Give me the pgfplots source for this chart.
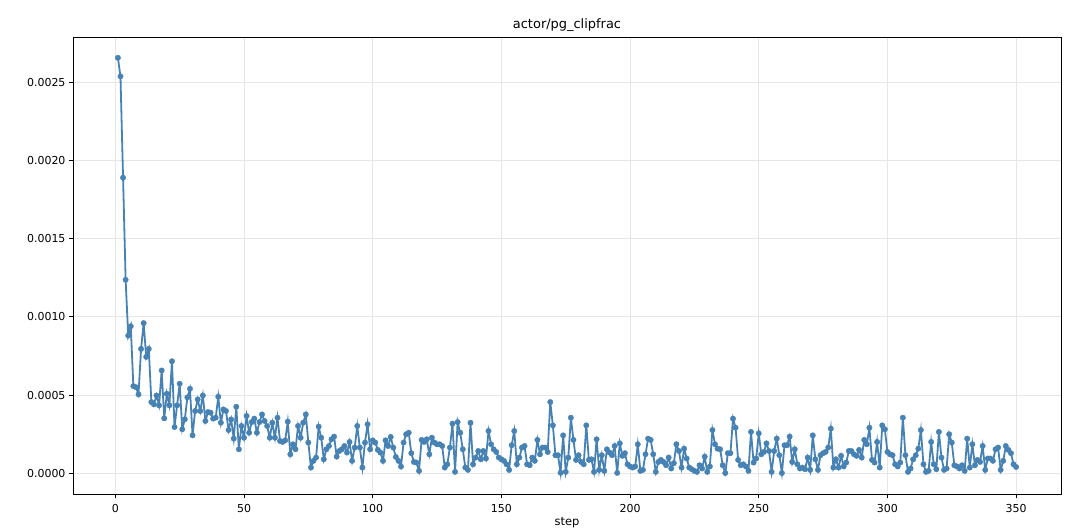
\documentclass[border=0pt]{standalone}
\usepackage{pgfplots}
\pgfplotsset{compat=1.18}
\usepackage{pgfplotstable}
\usepackage{fontspec}
\setmainfont{DejaVu Sans}
\definecolor{sblue}{HTML}{4682B4}
\definecolor{gridc}{HTML}{E6E6E6}
\pgfplotstableread{
x y
1 0.002657
2 0.002538
3 0.00189
4 0.001237
5 0.00088
6 0.00094
7 0.000557
8 0.00055
9 0.000504
10 0.000795
11 0.00096
12 0.000744
13 0.000795
14 0.000455
15 0.00044
16 0.000497
17 0.000434
18 0.000657
19 0.000351
20 0.000508
21 0.000434
22 0.000716
23 0.000295
24 0.000434
25 0.000572
26 0.000281
27 0.000345
28 0.000485
29 0.000540
30 0.000242
31 0.000398
32 0.000472
33 0.000398
34 0.000497
35 0.000334
36 0.000391
37 0.000387
38 0.000349
39 0.000355
40 0.000489
41 0.000323
42 0.000408
43 0.000398
44 0.000276
45 0.000344
46 0.000221
47 0.000425
48 0.000153
49 0.000302
50 0.000227
51 0.000366
52 0.000259
53 0.000327
54 0.000349
55 0.000259
56 0.000327
57 0.000376
58 0.000334
59 0.000302
60 0.000227
61 0.000323
62 0.000227
63 0.000355
64 0.000206
65 0.000200
66 0.000210
67 0.000330
68 0.000121
69 0.000185
70 0.000153
71 0.000302
72 0.000227
73 0.000323
74 0.000376
75 0.000196
76 0.000036
77 0.000079
78 0.000100
79 0.000298
80 0.000227
81 0.000089
82 0.000153
83 0.000174
84 0.000217
85 0.000234
86 0.000106
87 0.000142
88 0.000153
89 0.000174
90 0.000132
91 0.000200
92 0.000079
93 0.000164
94 0.000302
95 0.000164
96 0.000036
97 0.000196
98 0.000313
99 0.000153
100 0.000210
101 0.000196
102 0.000149
103 0.000132
104 0.000079
105 0.000210
106 0.000174
107 0.000232
108 0.000164
109 0.000104
110 0.000079
111 0.0000425
112 0.000196
113 0.000249
114 0.000259
115 0.000128
116 0.000072
117 0.000068
118 0.000015
119 0.000213
120 0.000200
121 0.000217
122 0.000121
123 0.000227
124 0.000196
125 0.000185
126 0.000185
127 0.000174
128 0.000036
129 0.000057
130 0.000164
131 0.000317
132 0.0000085
133 0.000327
134 0.000259
135 0.000153
136 0.000036
137 0.000021
138 0.000323
139 0.000057
140 0.000100
141 0.000142
142 0.000089
143 0.000142
144 0.000094
145 0.000270
146 0.000185
147 0.000153
148 0.000136
149 0.000100
150 0.000089
151 0.000079
152 0.000057
153 0.000021
154 0.000179
155 0.000270
156 0.000057
157 0.000100
158 0.000164
159 0.000174
160 0.000057
161 0.000051
162 0.000100
163 0.000079
164 0.000213
165 0.000121
166 0.000164
167 0.000164
168 0.000136
169 0.000455
170 0.000306
171 0.000115
172 0.000115
173 0.000003
174 0.000242
175 0.0000085
176 0.000100
177 0.000355
178 0.000213
179 0.000085
180 0.000115
181 0.000072
182 0.000057
183 0.000306
184 0.000085
185 0.000089
186 0.0000085
187 0.000217
188 0.000021
189 0.000115
190 0.000015
191 0.000153
192 0.000132
193 0.000115
194 0.000174
195 0.000002
196 0.000191
197 0.000111
198 0.000128
199 0.000057
200 0.000043
201 0.000036
202 0.000043
203 0.000185
204 0.000015
205 0.000021
206 0.000121
207 0.000221
208 0.000213
209 0.000121
210 0.0000085
211 0.000072
212 0.000085
213 0.000072
214 0.000051
215 0.000100
216 0.000030
217 0.000064
218 0.000185
219 0.000142
220 0.000036
221 0.000157
222 0.000094
223 0.000036
224 0.0000255
225 0.000015
226 0.0000085
227 0.000051
228 0.000030
229 0.000106
230 0.0000085
231 0.000043
232 0.000276
233 0.000185
234 0.000157
235 0.000153
236 0.000051
237 0.000001
238 0.000128
239 0.000128
240 0.000349
241 0.000291
242 0.000085
243 0.000051
244 0.000057
245 0.000043
246 0.000015
247 0.000264
248 0.000068
249 0.000094
250 0.000255
251 0.000121
252 0.000136
253 0.000191
254 0.000142
255 0.0000085
256 0.000142
257 0.000221
258 0.000115
259 0.000001
260 0.000179
261 0.000179
262 0.000234
263 0.000072
264 0.000153
265 0.000057
266 0.000030
267 0.000036
268 0.0000255
269 0.000100
270 0.000021
271 0.000242
272 0.000089
273 0.000021
274 0.000115
275 0.000128
276 0.000136
277 0.000164
278 0.000285
279 0.000036
280 0.000089
281 0.000036
282 0.000111
283 0.000043
284 0.000068
285 0.000142
286 0.000142
287 0.000121
288 0.000111
289 0.000149
290 0.000100
291 0.000213
292 0.000185
293 0.000291
294 0.000085
295 0.000068
296 0.000200
297 0.000036
298 0.000306
299 0.000281
300 0.000136
301 0.000121
302 0.000115
303 0.000057
304 0.000043
305 0.000068
306 0.000355
307 0.000115
308 0.0000085
309 0.000030
310 0.000089
311 0.000115
312 0.000157
313 0.000276
314 0.000057
315 0.0000085
316 0.000015
317 0.000200
318 0.000057
319 0.0000255
320 0.000264
321 0.000100
322 0.000021
323 0.000030
324 0.000249
325 0.000196
326 0.000051
327 0.000043
328 0.000030
329 0.000051
330 0.000015
331 0.000221
332 0.000036
333 0.000185
334 0.000051
335 0.000085
336 0.000072
337 0.000174
338 0.000021
339 0.000094
340 0.000094
341 0.000079
342 0.000153
343 0.000164
344 0.000021
345 0.000079
346 0.000174
347 0.000149
348 0.000128
349 0.000057
350 0.000040
}\datatable
\begin{document}
\begin{tikzpicture}
\begin{axis}[
  at={(0,0)}, anchor=south west,
  scale only axis, width=988bp, height=457bp,
  xmin=-16.45, xmax=367.45,
  ymin=-0.000133, ymax=0.00279,
  xtick={0,50,100,150,200,250,300,350},
  xticklabels={0,50,100,150,200,250,300,350},
  ytick={0,0.0005,0.001,0.0015,0.002,0.0025},
  yticklabels={0.0000,0.0005,0.0010,0.0015,0.0020,0.0025},
  scaled y ticks=false,
  /pgf/number format/assume math mode=true,
  tick align=outside, tick pos=left,
  major tick length=4bp,
  tick style={line width=0.8bp, black},
  axis line style={line width=0.8bp},
  grid=major,
  grid style={color=gridc, line width=0.8bp},
  ticklabel style={font=\fontsize{11}{13}\selectfont},
  xticklabel style={yshift=-3bp},
  title={actor/pg\_clipfrac},
  title style={font=\fontsize{13}{15}\selectfont, at={(axis description cs:0.5,1)}, anchor=base, yshift=3bp},
  xlabel={step},
  xlabel style={font=\fontsize{11.5}{13}\selectfont, at={(axis description cs:0.5,0)}, anchor=base, yshift=-31bp},
]
\addplot[color=sblue, line width=1.8bp, mark=*, mark size=2.7bp, mark options={solid, fill=sblue, draw=sblue, line width=0.4bp}] table[x=x, y=y] {\datatable};
\end{axis}
\pgfresetboundingbox
\path[use as bounding box] (-73bp,-36bp) rectangle (1007bp,494bp);
\end{tikzpicture}
\end{document}
